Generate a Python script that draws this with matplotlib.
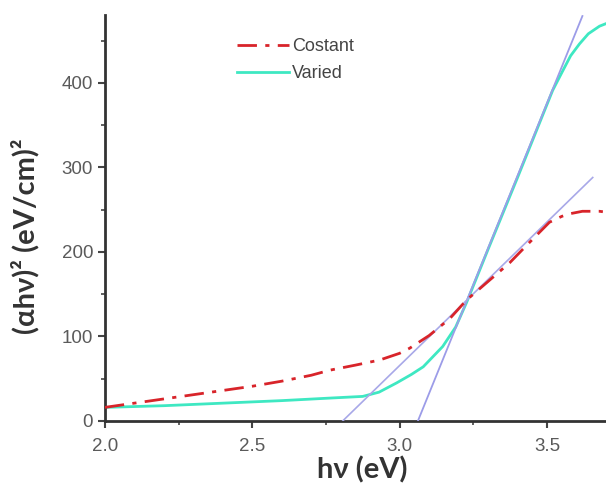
# Tauc plot: (alpha h nu)^2 vs photon energy
import matplotlib.pyplot as plt


costant_energy = [2.0, 2.1, 2.2, 2.3, 2.4, 2.5, 2.6, 2.7, 2.763, 2.85,
                  2.932, 3.0, 3.034, 3.1, 3.17, 3.227, 3.3, 3.373, 3.44,
                  3.508, 3.55, 3.576, 3.62, 3.678, 3.7]
costant = [16, 21, 26, 31, 36, 41, 47, 54, 60, 66,
           72, 80, 86, 101, 121, 143, 165, 187, 211,
           235, 242, 245, 248, 248, 247]

varied_energy = [2.0, 2.2, 2.4, 2.6, 2.763, 2.875, 2.93, 2.99, 3.04, 3.08,
                 3.146, 3.19, 3.227, 3.3, 3.4, 3.519, 3.553, 3.58, 3.61,
                 3.64, 3.678, 3.7]
varied = [16, 18, 21, 24, 27, 29, 34, 45, 55, 64,
          88, 111, 140, 203, 288, 391, 414, 432, 446,
          458, 467, 470]

# linear fits (tangents) for the band-gap estimates
fit_steep_x = [3.062, 3.62]
fit_steep_y = [0, 479]
fit_shallow_x = [2.807, 3.655]
fit_shallow_y = [0, 288]


def main() -> None:
    plt.rcParams["font.family"] = ["Liberation Sans", "DejaVu Sans"]

    fig = plt.figure(figsize=(6.06, 4.9), dpi=100)
    ax = fig.add_axes([0.173, 0.141, 0.827, 0.828])

    ax.plot(varied_energy, varied, color="#3ee8c2",
            lw=2.0, label="Varied", zorder=2)
    ax.plot(fit_steep_x, fit_steep_y, color="#9c9ce8", lw=1.3, zorder=3)
    ax.plot(fit_shallow_x, fit_shallow_y, color="#a8a8e8", lw=1.2, zorder=3)
    ax.plot(costant_energy, costant, color="#d8242a",
            lw=2.0, ls=(0, (7, 3, 1.5, 3)), label="Costant", zorder=4)

    ax.set_xlim(2.0, 3.7)
    ax.set_ylim(0, 480)
    ax.set_xticks([2.0, 2.5, 3.0, 3.5])
    ax.set_xticks([2.25, 2.75, 3.25], minor=True)
    ax.set_yticks([0, 100, 200, 300, 400])
    ax.set_yticks([50, 150, 250, 350, 450], minor=True)
    ax.set_xticklabels(["2.0", "2.5", "3.0", "3.5"])

    for side in ["top", "right"]:
        ax.spines[side].set_visible(False)
    for side in ["left", "bottom"]:
        ax.spines[side].set_linewidth(2.0)
        ax.spines[side].set_color("#333333")

    ax.tick_params(axis="both", which="major", direction="out", length=5,
                   width=1.5, color="#444444", labelsize=13.5,
                   labelcolor="#5a5a5a")
    ax.tick_params(axis="x", which="major", pad=7)
    ax.tick_params(axis="both", which="minor", direction="out", length=3,
                   width=1.2, color="#444444")

    ax.set_xlabel("hν (eV)", fontsize=21, fontweight="bold",
                  family="Lato", color="#333333")
    ax.xaxis.set_label_coords(0.513, -0.088)
    ax.set_ylabel("(αhν)² (eV/cm)²", fontsize=21,
                  fontweight="bold", family="Lato", color="#333333")
    ax.yaxis.set_label_coords(-0.13, 0.455)

    handles, labels = ax.get_legend_handles_labels()
    ax.legend(handles[::-1], labels[::-1], loc="upper left",
              bbox_to_anchor=(0.263, 0.943), frameon=False, fontsize=13,
              borderpad=0, borderaxespad=0,
              handlelength=2.9, handletextpad=0.15, labelspacing=0.55,
              labelcolor="#444444")

    fig.savefig("out.png", dpi=100)
    plt.close(fig)


if __name__ == "__main__":
    main()
